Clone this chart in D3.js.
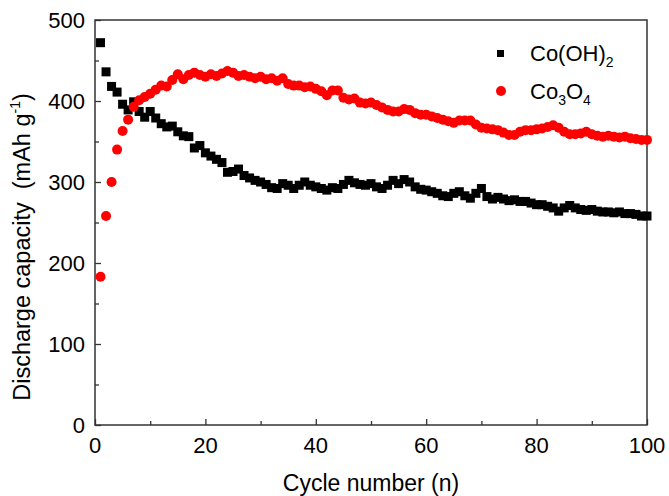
<!DOCTYPE html>
<html>
<head>
<meta charset="utf-8">
<script src="https://cdn.jsdelivr.net/npm/d3@7"></script>
<style>
  body { margin: 0; background: #fff; }
  text { font-family: "Liberation Sans", Arial, sans-serif; fill: #000; }
</style>
</head>
<body>
<div id="chart"></div>
<script>
// cycle numbers 1..100
const cycles = d3.range(1, 101);

// Co(OH)2 discharge capacity (mAh/g)
const cooh2 = [472, 436, 418, 411, 396, 389, 399, 387, 380, 387,
  379, 372, 368, 369, 362, 357, 356, 342, 345, 336,
  332, 328, 324, 312, 313, 316, 308, 305, 302, 300,
  297, 293, 292, 298, 296, 292, 296, 300, 296, 294,
  292, 290, 293, 292, 297, 302, 299, 297, 296, 298,
  294, 292, 296, 302, 298, 303, 300, 294, 291, 290,
  288, 286, 283, 282, 286, 288, 283, 280, 286, 292,
  282, 279, 281, 279, 277, 278, 276, 276, 274, 272,
  272, 270, 268, 264, 268, 271, 268, 266, 265, 266,
  264, 263, 263, 262, 263, 261, 261, 260, 258, 258];

// Co3O4 discharge capacity (mAh/g)
const co3o4 = [183, 258, 300, 340, 363, 377, 393, 401, 405, 409,
  414, 419, 418, 426, 433, 427, 432, 435, 432, 430,
  433, 431, 434, 437, 435, 431, 432, 430, 428, 430,
  427, 428, 425, 428, 421, 419, 419, 417, 418, 415,
  412, 407, 413, 413, 404, 402, 403, 398, 397, 398,
  395, 392, 389, 387, 387, 390, 389, 385, 383, 383,
  381, 379, 377, 375, 373, 376, 376, 376, 371, 367,
  366, 365, 364, 361, 358, 358, 362, 364, 364, 365,
  366, 368, 370, 367, 362, 359, 359, 360, 362, 359,
  357, 356, 357, 356, 355, 356, 354, 353, 352, 352];

const xTicks = [0, 20, 40, 60, 80, 100];
const yTicks = [0, 100, 200, 300, 400, 500];

const width = 669, height = 496;
const margin = {top: 20, right: 22, bottom: 71, left: 95};

const svg = d3.select("#chart").append("svg")
  .attr("width", width)
  .attr("height", height);

const x = d3.scaleLinear().domain([0, 100]).range([margin.left, width - margin.right]);
const y = d3.scaleLinear().domain([0, 500]).range([height - margin.bottom, margin.top]);

const axisColor = "#333";

// frame
svg.append("rect")
  .attr("x", x(0)).attr("y", y(500))
  .attr("width", x(100) - x(0)).attr("height", y(0) - y(500))
  .attr("fill", "none").attr("stroke", axisColor).attr("stroke-width", 1.5);

// x axis (ticks inside)
const gx = svg.append("g").attr("transform", `translate(0,${y(0)})`);
gx.call(d3.axisBottom(x).tickValues(d3.range(0, 101, 10)).tickSize(-5).tickFormat(""))
  .call(g => g.select(".domain").remove())
  .call(g => g.selectAll(".tick line").attr("stroke", axisColor).attr("stroke-width", 1.3)
    .attr("y2", d => d % 20 === 0 ? -6 : -4));
gx.selectAll(".xl").data(xTicks).enter().append("text")
  .attr("x", d => x(d)).attr("y", 28)
  .attr("text-anchor", "middle").attr("font-size", 22)
  .text(d => d);

// y axis (ticks inside)
const gy = svg.append("g").attr("transform", `translate(${x(0)},0)`);
gy.call(d3.axisLeft(y).tickValues(d3.range(0, 501, 50)).tickSize(-5).tickFormat(""))
  .call(g => g.select(".domain").remove())
  .call(g => g.selectAll(".tick line").attr("stroke", axisColor).attr("stroke-width", 1.3)
    .attr("x2", d => d % 100 === 0 ? 6 : 4));
gy.selectAll(".yl").data(yTicks).enter().append("text")
  .attr("x", -10).attr("y", d => y(d) + 8)
  .attr("text-anchor", "end").attr("font-size", 22)
  .text(d => d);

// axis titles
svg.append("text")
  .attr("x", (x(0) + x(100)) / 2).attr("y", 491)
  .attr("text-anchor", "middle").attr("font-size", 23)
  .text("Cycle number (n)");

const yt = svg.append("text")
  .attr("transform", "translate(30,247) rotate(-90)")
  .attr("text-anchor", "middle").attr("font-size", 23.5);
yt.append("tspan").text("Discharge capacity\u00a0\u00a0(mAh g");
yt.append("tspan").attr("font-size", 14).attr("dy", -10).text("-1");
yt.append("tspan").attr("dy", 10).text(")");

// Co(OH)2 squares
const sq = 9;
svg.append("g").selectAll("rect").data(cycles).enter().append("rect")
  .attr("x", (d) => x(d) - sq / 2)
  .attr("y", (d, i) => y(cooh2[i]) - sq / 2)
  .attr("width", sq).attr("height", sq)
  .attr("fill", "#000");

// Co3O4 circles
svg.append("g").selectAll("circle").data(cycles).enter().append("circle")
  .attr("cx", d => x(d))
  .attr("cy", (d, i) => y(co3o4[i]))
  .attr("r", 5)
  .attr("fill", "#ff0000");

// legend
const lg = svg.append("g");
lg.append("rect").attr("x", 497).attr("y", 50).attr("width", 7).attr("height", 7).attr("fill", "#000");
lg.append("circle").attr("cx", 501).attr("cy", 91).attr("r", 5).attr("fill", "#ff0000");

const t1 = lg.append("text").attr("x", 530).attr("y", 61).attr("font-size", 22);
t1.append("tspan").text("Co(OH)");
t1.append("tspan").attr("font-size", 14).attr("dy", 6).text("2");

const t2 = lg.append("text").attr("x", 530).attr("y", 99).attr("font-size", 22);
t2.append("tspan").text("Co");
t2.append("tspan").attr("font-size", 14).attr("dy", 6).text("3");
t2.append("tspan").attr("dy", -6).text("O");
t2.append("tspan").attr("font-size", 14).attr("dy", 6).text("4");
</script>
</body>
</html>
